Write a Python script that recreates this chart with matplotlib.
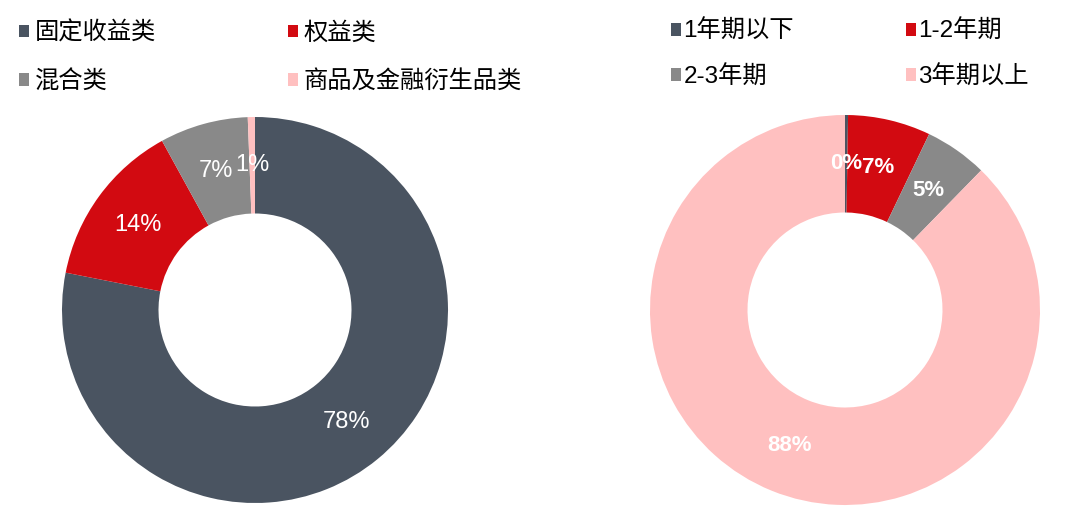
import matplotlib
matplotlib.use("Agg")
import matplotlib.pyplot as plt

plt.rcParams['font.family'] = ['Liberation Sans', 'Noto Sans CJK SC', 'DejaVu Sans']

# Data
asset_categories = ['固定收益类', '权益类', '混合类', '商品及金融衍生品类']
asset_values = [78.1, 13.9, 7.4, 0.6]
term_categories = ['1年期以下', '1-2年期', '2-3年期', '3年期以上']
term_values = [0.25, 6.85, 5.2, 87.7]

colors = ['#4A5461', '#D20A11', '#898989', '#FFC0C0']

W, H = 1080, 512
fig = plt.figure(figsize=(W / 100, H / 100), dpi=100)


def axes_px(cx, cy, r):
    return fig.add_axes([(cx - r) / W, (H - cy - r) / H, 2 * r / W, 2 * r / H])


def fmt(v):
    return f'{v:.0f}%'


# Left donut
ax1 = axes_px(255, 310, 193)
w1, t1, a1 = ax1.pie(asset_values, colors=colors, startangle=90, counterclock=False,
                     radius=1.0, wedgeprops=dict(width=0.5, linewidth=0),
                     autopct=fmt, pctdistance=0.75,
                     textprops=dict(color='white', fontsize=17))
ax1.set_xlim(-1, 1)
ax1.set_ylim(-1, 1)
ax1.axis('off')

# Right donut
ax2 = axes_px(845, 310, 195)
w2, t2, a2 = ax2.pie(term_values, colors=colors, startangle=90, counterclock=False,
                     radius=1.0, wedgeprops=dict(width=0.5, linewidth=0),
                     autopct=fmt, pctdistance=0.75,
                     textprops=dict(color='white', fontsize=16, fontweight='bold'))
ax2.set_xlim(-1, 1)
ax2.set_ylim(-1, 1)
ax2.axis('off')

# Legends (row-wise order: [0, 1] on the first row, [2, 3] on the second)
order = [0, 2, 1, 3]
leg1 = fig.legend([w1[i] for i in order], [asset_categories[i] for i in order],
                  ncol=2, loc='upper left',
                  bbox_to_anchor=(-3 / W, 1 + 2 / H), frameon=False,
                  handlelength=0.42, handleheight=0.42, handletextpad=0.25,
                  columnspacing=5.4, labelspacing=0.92,
                  prop=dict(family=['Noto Sans CJK SC'], size=17.5))
leg2 = fig.legend([w2[i] for i in order], [term_categories[i] for i in order],
                  ncol=2, loc='upper left',
                  bbox_to_anchor=(649 / W, 1 + 2 / H), frameon=False,
                  handlelength=0.42, handleheight=0.42, handletextpad=0.1,
                  columnspacing=4.6, labelspacing=0.92,
                  prop=dict(family=['Liberation Sans', 'Noto Sans CJK SC'], size=17.5))

fig.savefig('out.png', dpi=100, facecolor='white')
